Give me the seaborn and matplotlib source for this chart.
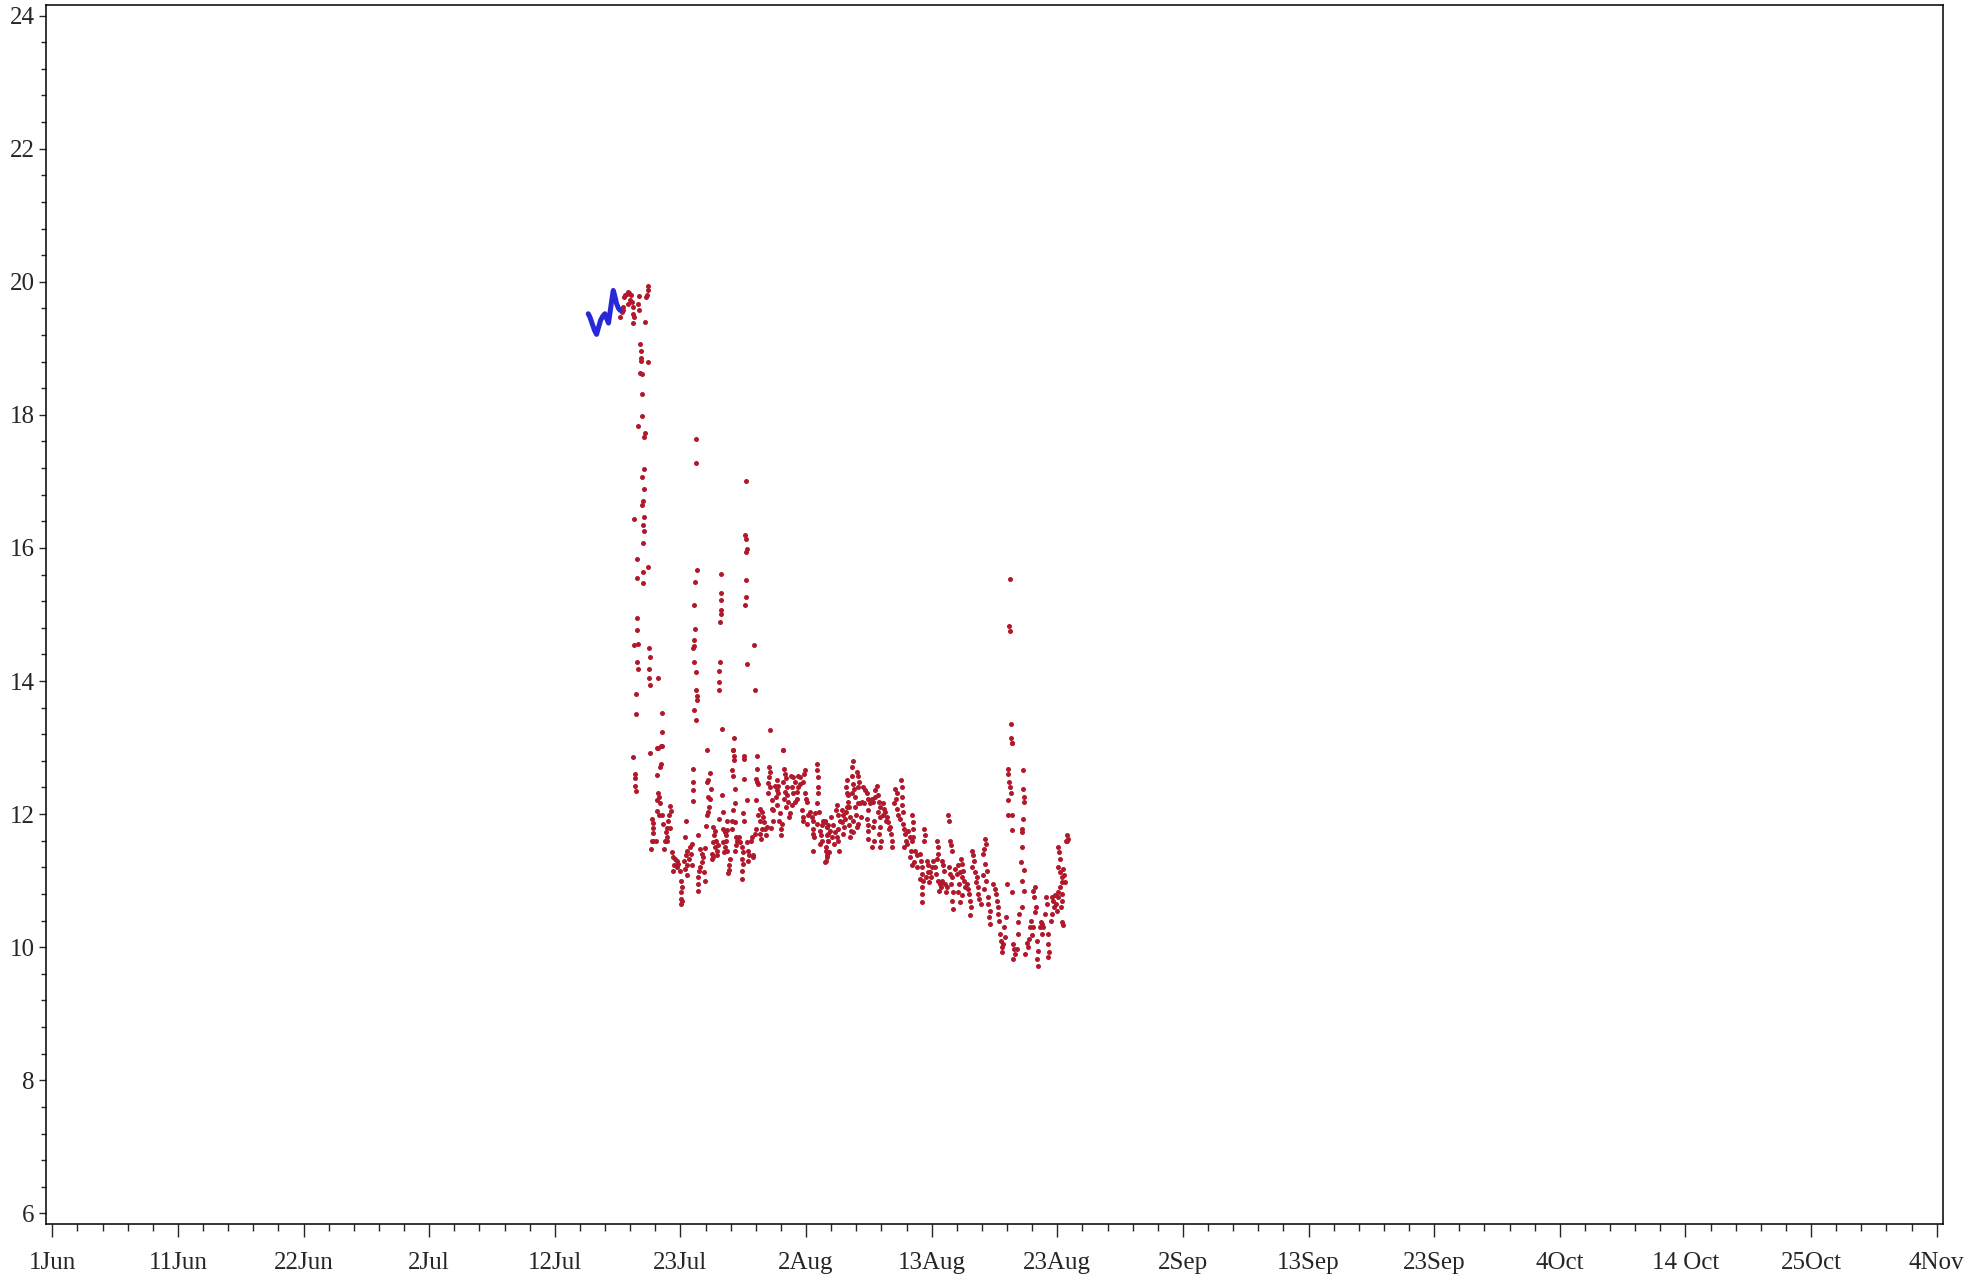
import numpy as np
import pandas as pd
import matplotlib
matplotlib.use("Agg")
import matplotlib.pyplot as plt
import seaborn as sns
from matplotlib.ticker import FixedLocator, MultipleLocator

# time axis in days since 1 Jun
x_labels = ['1Jun', '11Jun', '22Jun', '2Jul', '12Jul', '23Jul', '2Aug', '13Aug',
            '23Aug', '2Sep', '13Sep', '23Sep', '4Oct', '14 Oct', '25Oct', '4Nov']
x_step = 10.4

# blue series (before switch)
blue_day = [44.37, 44.51, 44.70, 44.89, 45.06, 45.20, 45.39, 45.56, 45.75, 45.89,
            46.05, 46.16, 46.30, 46.44, 46.55, 46.72, 46.88, 47.02]
blue_temp = [19.52, 19.47, 19.37, 19.27, 19.21, 19.30, 19.42, 19.48, 19.52, 19.45,
             19.38, 19.52, 19.70, 19.87, 19.80, 19.67, 19.60, 19.57]

red_plateau = [(46.99, 19.47), (47.13, 19.55), (47.21, 19.58), (47.27, 19.62), (47.35, 19.77),
               (47.43, 19.80), (47.54, 19.82), (47.65, 19.84), (47.76, 19.83), (47.87, 19.80),
               (47.82, 19.72), (47.68, 19.67), (47.96, 19.70), (48.04, 19.62), (48.10, 19.52),
               (48.15, 19.47), (48.10, 19.38), (48.59, 19.78), (48.51, 19.67), (48.59, 19.58),
               (49.06, 19.40), (49.12, 19.77), (49.20, 19.80), (49.28, 19.88), (49.34, 19.93)]

red_drop = [(48.65, 19.07), (48.70, 18.96), (48.70, 18.85), (48.70, 18.81), (49.34, 18.80),
            (48.65, 18.63), (48.78, 18.61), (48.78, 18.31), (48.84, 17.98), (48.51, 17.84),
            (49.06, 17.73), (49.01, 17.67), (49.01, 17.18), (48.84, 17.07), (49.01, 16.88),
            (48.87, 16.71), (48.84, 16.64), (48.18, 16.44), (48.98, 16.46), (48.87, 16.34),
            (48.98, 16.25), (48.92, 16.08), (48.43, 15.83), (49.34, 15.71), (48.92, 15.64),
            (48.37, 15.55), (48.92, 15.47), (48.40, 14.94), (48.40, 14.76), (48.51, 14.56),
            (48.18, 14.54), (48.43, 14.28), (48.51, 14.18), (48.34, 13.80), (48.34, 13.51),
            (49.39, 14.50), (49.45, 14.36), (49.42, 14.18), (49.36, 14.04), (50.14, 14.04),
            (49.45, 13.94), (50.44, 13.52), (50.47, 13.24), (50.39, 13.03), (50.11, 13.00),
            (48.09, 12.86), (48.23, 12.61), (48.26, 12.55), (48.23, 12.42), (48.29, 12.34)]

red_spikes = [(53.28, 17.63), (53.28, 17.27), (53.37, 15.67), (53.20, 15.49), (53.14, 15.15),
              (53.20, 14.78), (53.12, 14.61), (53.14, 14.53), (53.06, 14.49), (53.14, 14.28),
              (53.26, 14.13), (53.26, 13.86), (53.37, 13.78), (53.37, 13.72), (53.12, 13.57),
              (53.26, 13.41),
              (55.32, 15.61), (55.38, 15.33), (55.32, 15.22), (55.32, 15.07), (55.38, 15.01),
              (55.30, 14.88), (55.30, 14.28), (55.21, 14.15), (55.21, 13.99), (55.16, 13.86),
              (55.44, 13.28), (56.43, 13.15), (56.37, 12.97),
              (57.45, 17.01), (57.34, 16.19), (57.42, 16.13), (57.50, 15.99), (57.45, 15.94),
              (57.39, 15.52), (57.39, 15.26), (57.34, 15.15), (58.08, 14.54), (57.50, 14.26),
              (58.14, 13.87), (59.41, 13.26), (60.51, 12.96),
              (79.28, 15.53), (79.22, 14.82), (79.28, 14.75), (79.36, 13.36), (79.33, 13.15),
              (79.44, 13.07)]

red_late_jul = [(49.47, 12.92), (50.08, 13.00), (50.44, 13.02),
                (50.39, 12.75), (50.30, 12.71), (50.03, 12.59), (50.16, 12.31), (50.25, 12.26),
                (50.08, 12.21), (50.30, 12.16), (50.03, 12.04), (50.19, 11.98), (50.44, 11.98),
                (50.52, 11.85), (49.61, 11.92), (49.75, 11.87), (49.70, 11.79), (49.75, 11.71),
                (49.61, 11.60), (49.75, 11.59), (49.56, 11.48), (49.97, 11.60),
                (51.13, 12.12), (51.19, 12.04), (51.08, 11.98), (50.99, 11.90), (50.91, 11.79),
                (50.80, 11.73), (50.85, 11.65), (50.72, 11.60), (50.63, 11.48), (50.91, 11.60),
                (51.13, 11.79),
                (51.27, 11.43), (51.41, 11.35), (51.54, 11.33), (51.68, 11.30), (51.49, 11.23),
                (51.35, 11.15), (51.82, 11.25), (51.68, 11.20), (51.96, 11.15),
                (52.01, 11.00), (52.10, 10.90), (52.04, 10.83), (52.01, 10.73), (52.04, 10.65),
                (52.10, 10.70),
                (52.45, 11.89), (52.40, 11.65), (52.57, 11.45), (52.45, 11.38), (52.32, 11.30),
                (52.51, 11.23), (52.37, 11.18), (52.57, 11.08), (52.79, 11.50), (52.92, 11.55),
                (52.87, 11.40), (52.95, 11.23), (52.73, 11.33),
                (53.06, 12.68), (53.01, 12.48), (53.01, 12.36), (53.06, 12.19),
                (53.42, 11.68), (53.61, 11.48), (53.75, 11.40), (53.83, 11.35), (53.75, 11.28),
                (53.61, 11.20), (53.53, 11.14), (53.48, 11.05), (53.48, 10.95), (53.48, 10.85),
                (53.95, 11.13), (54.03, 11.00), (54.03, 11.49),
                (54.17, 12.96), (54.44, 12.62), (54.30, 12.51), (54.17, 12.48), (54.50, 12.38),
                (54.30, 12.26), (54.44, 12.23), (54.39, 12.10), (54.30, 12.03), (54.17, 11.98),
                (54.11, 11.82),
                (54.72, 11.80), (54.86, 11.75), (54.77, 11.68), (54.94, 11.60), (54.66, 11.58),
                (54.86, 11.50), (54.58, 11.40), (54.72, 11.35), (54.99, 11.45), (54.58, 11.33),
                (55.13, 11.53), (54.99, 11.38),
                (55.21, 11.93), (55.41, 12.28), (55.49, 12.03), (55.55, 11.78), (55.68, 11.73),
                (55.82, 11.76), (55.77, 11.68), (55.55, 11.58), (55.68, 11.50), (55.60, 11.43),
                (55.82, 11.45), (55.77, 11.60),
                (55.82, 11.89), (55.99, 11.23), (56.04, 11.16), (55.96, 11.11), (56.10, 11.33),
                (56.37, 12.96), (56.43, 12.88), (56.46, 12.81), (56.24, 12.66), (56.37, 12.58),
                (56.51, 12.37), (56.51, 12.16), (56.32, 12.06), (56.24, 11.90), (56.24, 11.78),
                (56.51, 11.88), (56.59, 11.65), (56.65, 11.60), (56.59, 11.53), (56.51, 11.45),
                (57.28, 12.88), (57.28, 12.83), (57.26, 12.53), (57.20, 12.01), (57.26, 11.90),
                (56.87, 11.65), (56.93, 11.58), (57.06, 11.50), (57.15, 11.43), (57.06, 11.33),
                (57.20, 11.25), (57.12, 11.15), (57.12, 11.03),
                (57.53, 12.21), (57.48, 11.58), (57.62, 11.45), (57.70, 11.38), (57.56, 11.30),
                (57.81, 11.60), (57.89, 11.65), (57.97, 11.38), (58.03, 11.35), (58.17, 11.70),
                (58.25, 11.78), (58.30, 12.88), (58.36, 12.68),
                (58.22, 12.53), (58.30, 12.48), (58.44, 12.46), (58.25, 12.21), (58.58, 12.08),
                (58.72, 12.03), (58.44, 11.98), (58.58, 11.90), (58.80, 11.95), (58.91, 11.88),
                (58.72, 11.78), (58.58, 11.70), (58.64, 11.63), (58.99, 11.78), (59.08, 11.68),
                (59.13, 11.80)]

red_early_aug = [(59.35, 12.71), (59.41, 12.63), (59.35, 12.56), (59.27, 12.47), (59.41, 12.41),
                 (59.27, 12.32), (59.55, 12.08), (59.68, 12.06), (59.63, 11.90), (59.46, 11.79),
                 (59.55, 12.21),
                 (59.96, 12.51), (59.82, 12.43), (59.96, 12.36), (60.10, 12.31), (59.91, 12.26),
                 (60.02, 12.13), (60.24, 12.01), (60.18, 11.90), (60.37, 11.85), (60.29, 11.78),
                 (60.32, 11.68), (60.04, 12.42),
                 (60.51, 12.96), (60.57, 12.68), (60.65, 12.61), (60.73, 12.55), (60.51, 12.48),
                 (60.79, 12.41), (60.65, 12.33), (60.57, 12.23), (60.84, 12.28), (60.93, 12.18),
                 (60.73, 12.10), (61.06, 12.01), (61.01, 11.95),
                 (61.12, 12.58), (61.34, 12.56), (61.48, 12.48), (61.20, 12.41), (61.34, 12.31),
                 (61.62, 12.33), (61.75, 12.58), (61.89, 12.56), (61.48, 12.18), (61.28, 12.13),
                 (61.75, 12.41), (61.89, 12.46), (61.62, 12.23),
                 (62.31, 12.66), (62.22, 12.61), (62.17, 12.48), (62.31, 12.31), (62.39, 12.23),
                 (62.03, 12.06), (62.17, 11.95), (62.11, 11.90), (62.44, 12.18), (62.44, 11.85),
                 (62.58, 11.98),
                 (63.33, 12.75), (63.33, 12.67), (63.36, 12.56), (63.41, 12.41), (63.38, 12.31),
                 (63.27, 12.16), (62.72, 12.03), (62.86, 11.95), (63.00, 11.90), (63.13, 12.01),
                 (63.27, 11.85), (63.49, 12.03), (63.00, 11.78), (62.94, 11.70), (63.05, 11.65),
                 (63.00, 11.45), (63.69, 11.83), (63.82, 11.90),
                 (63.55, 11.75), (63.60, 11.68), (63.69, 11.60), (63.55, 11.55), (63.96, 11.88),
                 (64.10, 11.80), (64.24, 11.83), (64.16, 11.68), (64.05, 11.45), (64.10, 11.38),
                 (64.05, 11.30), (64.24, 11.60)]

red_mid_aug = [(63.97, 11.90), (64.11, 11.80), (64.25, 11.70), (64.38, 11.75), (64.52, 11.65),
               (64.19, 11.60), (64.05, 11.50), (64.30, 11.43), (64.11, 11.35), (63.97, 11.28),
               (64.66, 11.83), (64.80, 11.73), (64.94, 11.65), (65.07, 11.60), (64.74, 11.55),
               (65.13, 11.45), (65.02, 11.78), (64.94, 12.13), (64.85, 12.06), (65.07, 11.98),
               (65.21, 11.90), (64.47, 11.95),
               (65.35, 12.06), (65.49, 11.98), (65.40, 11.88), (65.63, 11.93), (65.57, 11.80),
               (65.68, 12.03), (65.76, 12.11), (65.85, 12.18), (65.76, 12.31), (65.68, 12.41),
               (65.82, 12.51), (65.96, 12.11), (66.04, 11.95), (65.96, 11.83), (66.12, 11.75),
               (66.04, 11.65), (65.49, 11.70), (65.90, 12.28),
               (66.32, 12.80), (66.23, 12.71), (66.18, 12.58), (66.32, 12.46), (66.40, 12.38),
               (66.23, 12.31), (66.45, 12.26), (66.59, 12.63), (66.73, 12.58), (66.78, 12.48),
               (66.67, 12.41), (66.73, 12.16), (66.45, 12.11), (66.51, 11.98), (66.32, 11.90),
               (66.59, 11.80), (66.87, 12.16), (66.95, 11.95), (66.32, 11.73), (66.73, 11.85),
               (67.14, 12.41), (67.28, 12.36), (67.42, 12.31), (67.23, 12.16), (67.06, 12.18),
               (67.56, 12.23), (67.70, 12.16), (67.50, 12.06), (67.42, 11.93), (67.56, 11.83),
               (67.50, 11.75), (67.50, 11.63), (67.83, 12.23), (67.97, 12.18), (68.11, 12.26),
               (68.25, 12.43), (68.11, 12.36), (68.05, 11.90), (67.97, 11.80), (68.05, 11.60),
               (67.89, 11.50),
               (68.33, 12.28), (68.44, 12.18), (68.52, 12.11), (68.38, 12.03), (68.52, 11.95),
               (68.52, 11.80), (68.44, 11.70), (68.61, 11.60), (68.52, 11.50), (68.80, 12.16),
               (68.88, 12.08), (68.94, 12.03), (68.80, 11.98), (68.99, 11.90), (69.07, 11.95),
               (69.21, 11.88), (69.35, 11.80), (69.43, 11.70), (69.49, 11.60), (69.54, 11.50),
               (69.27, 11.78),
               (69.76, 12.38), (69.90, 12.31), (69.82, 12.23), (69.71, 12.16), (69.90, 12.08),
               (70.04, 11.98), (70.18, 11.93), (70.26, 12.51), (70.32, 12.41), (70.32, 12.26),
               (70.37, 12.13), (70.45, 11.85), (70.54, 11.78), (70.59, 11.70), (70.65, 11.60),
               (70.54, 11.50), (70.73, 11.55), (70.45, 12.03),
               (70.87, 11.75), (71.01, 11.65), (71.14, 11.60), (71.20, 11.98), (71.28, 11.88),
               (71.28, 11.78), (71.09, 11.45), (71.01, 11.35), (71.28, 11.65), (71.42, 11.45),
               (71.56, 11.38), (71.37, 11.28), (71.56, 11.20), (71.14, 11.23),
               (71.83, 11.40), (71.92, 11.30), (72.03, 11.20), (71.97, 11.10), (71.83, 11.03),
               (72.11, 11.00), (72.03, 10.90), (71.97, 10.80), (72.03, 10.68), (72.19, 11.78),
               (72.25, 11.68), (72.19, 11.60), (72.39, 11.30), (72.52, 11.23), (72.47, 11.13),
               (72.30, 11.05)]

red_late_aug = [(72.66, 11.13), (72.74, 11.05), (72.58, 10.98), (72.80, 11.20), (72.94, 11.30),
                (73.08, 11.20), (73.21, 11.60), (73.30, 11.50), (73.35, 11.40), (73.21, 11.33),
                (73.13, 11.10), (73.35, 11.00), (73.49, 10.95), (73.41, 10.85), (73.57, 10.90),
                (73.63, 11.30), (73.77, 11.23), (73.85, 11.15), (73.68, 11.00), (73.90, 10.95),
                (74.04, 10.90), (73.96, 10.83), (74.18, 11.98), (74.23, 11.90), (74.32, 11.60),
                (74.40, 11.53), (74.46, 11.45), (74.23, 11.20), (74.32, 11.10), (74.46, 11.05),
                (74.40, 10.95), (74.59, 10.83), (74.51, 10.70), (74.59, 10.58),
                (74.73, 11.18), (74.87, 11.10), (75.01, 11.23), (75.15, 11.13), (75.23, 11.33),
                (75.28, 11.05), (75.06, 10.95), (74.95, 10.83), (75.15, 10.68), (75.34, 11.25),
                (75.42, 11.15), (75.50, 11.00), (75.56, 10.90), (75.70, 10.95), (75.34, 10.78),
                (75.83, 10.88), (75.89, 10.80), (75.97, 10.70), (76.06, 10.60), (75.97, 10.48),
                (76.11, 11.45), (76.25, 11.38), (76.33, 11.30), (76.17, 11.20), (76.39, 11.13),
                (76.52, 11.05), (76.44, 10.98), (76.61, 10.90), (76.66, 10.80), (76.72, 10.73),
                (76.88, 10.65),
                (77.22, 11.63), (77.27, 11.55), (77.16, 11.48), (77.08, 11.40), (77.22, 11.25),
                (77.35, 11.15), (77.08, 11.08), (77.27, 11.00), (77.16, 10.88), (77.44, 10.75),
                (77.49, 10.65), (77.63, 10.55), (77.55, 10.45), (77.63, 10.35), (77.90, 10.95),
                (78.04, 10.88), (78.10, 10.80), (78.18, 10.70), (78.26, 10.60), (78.32, 10.50),
                (78.37, 10.40),
                (78.46, 10.20), (78.54, 10.10), (78.59, 10.00), (78.65, 9.93), (78.73, 10.05),
                (78.87, 10.15), (78.81, 10.30), (78.93, 10.45), (79.01, 10.95),
                (79.42, 13.07), (79.09, 12.68), (79.15, 12.61), (79.20, 12.48), (79.28, 12.41),
                (79.37, 12.31), (79.09, 12.21), (79.15, 11.98), (79.48, 11.98), (79.42, 11.76),
                (79.48, 10.83), (79.56, 10.05), (79.64, 9.97), (79.70, 9.90), (79.56, 9.82),
                (79.84, 9.97), (79.97, 10.20), (79.92, 10.38),
                (80.39, 12.67), (80.39, 12.38), (80.47, 12.26), (80.47, 12.18), (80.33, 11.93),
                (80.31, 11.78), (80.25, 11.73), (80.25, 11.50), (80.20, 11.28), (80.47, 11.16),
                (80.25, 11.00), (80.47, 10.85), (80.25, 10.60), (80.03, 10.50),
                (80.66, 10.07), (80.53, 9.90), (80.80, 10.00), (80.86, 10.13), (80.94, 10.30),
                (81.02, 10.40), (81.08, 10.18), (81.22, 10.85), (81.35, 10.90), (81.30, 10.75),
                (81.41, 10.60), (81.35, 10.53), (81.22, 10.30), (81.49, 10.10), (81.57, 9.95),
                (81.52, 9.82), (81.57, 9.72),
                (81.77, 10.30), (81.85, 10.38), (81.91, 10.35), (82.04, 10.30), (81.96, 10.20),
                (82.18, 10.50), (82.24, 10.75), (82.32, 10.65), (82.40, 10.20), (82.46, 10.05),
                (82.51, 9.93), (82.40, 9.85), (82.73, 10.75), (82.87, 10.70), (82.95, 10.60),
                (82.79, 10.50), (82.68, 10.40), (83.01, 10.78), (83.06, 10.65), (83.15, 10.55),
                (83.29, 11.50), (83.34, 11.43), (83.42, 11.33), (83.23, 11.20), (83.42, 11.13),
                (83.56, 11.05), (83.62, 10.98), (83.70, 11.18), (83.78, 11.08), (83.84, 10.98),
                (83.89, 11.60), (83.97, 11.60), (83.42, 10.90), (83.62, 10.80), (83.56, 10.70),
                (83.51, 10.60), (83.62, 10.38), (83.70, 10.33), (83.29, 10.83), (83.23, 10.75),
                (84.00, 11.68), (84.05, 11.63)]

RED = '#b2182b'
BLUE = '#2828d8'

sns.set_style("ticks")
plt.rcParams['font.family'] = ['Liberation Serif', 'DejaVu Serif']

red = pd.DataFrame(red_plateau + red_drop + red_spikes + red_late_jul
                   + red_early_aug + red_mid_aug + red_late_aug, columns=['day', 'temp'])
blue = pd.DataFrame({'day': blue_day, 'temp': blue_temp})

fig = plt.figure(figsize=(19.82, 12.81), dpi=100)
ax = fig.add_axes([0.0232, 0.0445, 0.9571, 0.9516])

sns.lineplot(data=blue, x='day', y='temp', color=BLUE, lw=3.6, sort=False, ax=ax)
sns.scatterplot(data=red, x='day', y='temp', color=RED, s=13, linewidth=0, ax=ax)

ax.set_xlim(-0.52, 156.52)
ax.set_ylim(5.84, 24.16)
ax.xaxis.set_major_locator(FixedLocator(np.arange(len(x_labels)) * x_step))
ax.xaxis.set_minor_locator(MultipleLocator(x_step / 5))
ax.set_xticklabels(x_labels)
ax.yaxis.set_major_locator(MultipleLocator(2))
ax.yaxis.set_minor_locator(MultipleLocator(0.4))
ax.set_xlabel('')
ax.set_ylabel('')

for sp in ax.spines.values():
    sp.set_visible(True)
    sp.set_linewidth(1.1)
    sp.set_color('black')
ax.tick_params(axis='x', which='major', length=9, width=1, pad=11, labelsize=18, direction='out')
ax.tick_params(axis='x', which='minor', length=5, width=1, direction='out')
ax.tick_params(axis='y', which='major', length=5, width=1, pad=3, labelsize=18, direction='out')
ax.tick_params(axis='y', which='minor', length=3.5, width=1, direction='out')

fig.savefig('out.png', dpi=100)
